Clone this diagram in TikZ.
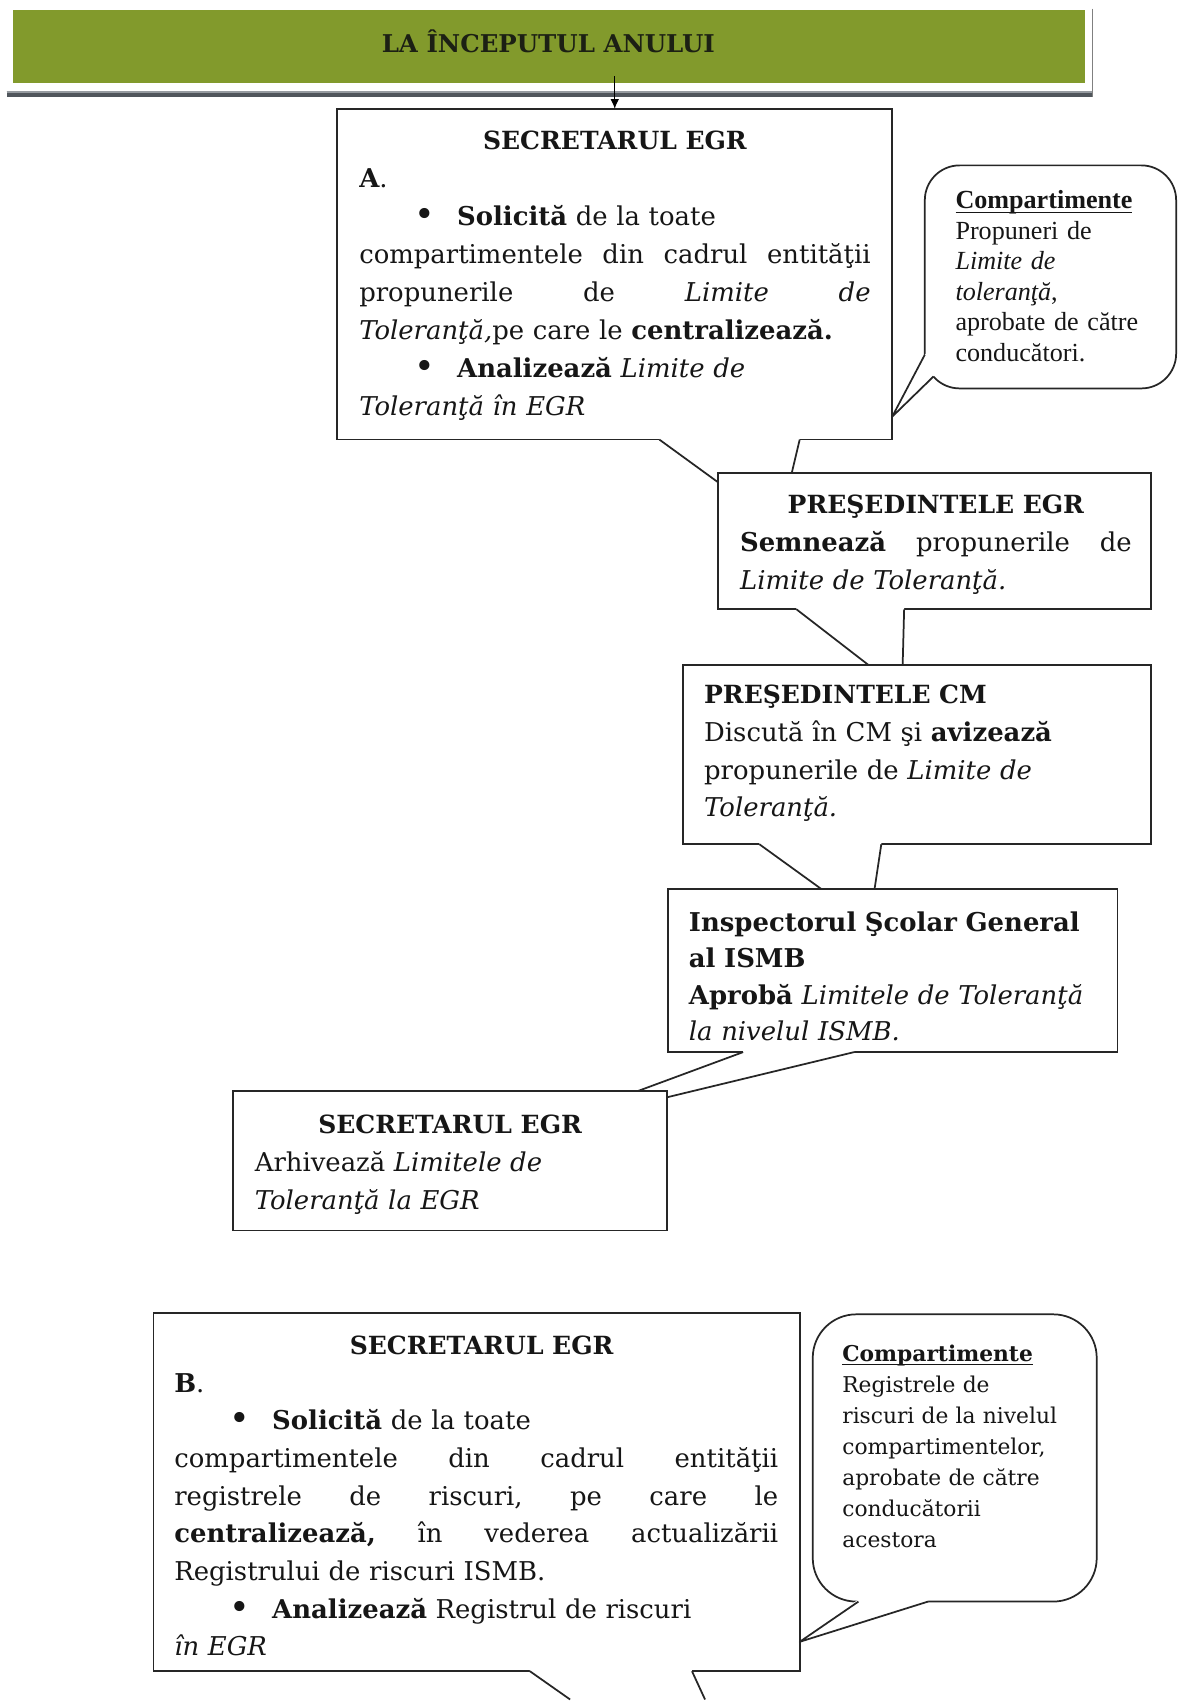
\documentclass[tikz,border=0pt]{standalone}
\usepackage{fontspec}
\usepackage{graphicx}
\setmainfont{DejaVu Serif}
\newfontfamily\timesfont{Liberation Serif}
\usetikzlibrary{arrows.meta,calc}

\definecolor{bandgreen}{RGB}{130,154,44}
\definecolor{titleink}{RGB}{28,32,20}
\definecolor{ink}{RGB}{22,22,22}
\definecolor{frame}{RGB}{38,38,38}
\definecolor{shadowdark}{RGB}{80,86,92}
\definecolor{shadowlight}{RGB}{150,155,160}

% underline with a heavier rule
\newsavebox\ulbox
\newcommand\ulword[1]{\sbox\ulbox{#1}\rlap{\rule[-4pt]{\wd\ulbox}{1.3pt}}\usebox\ulbox}
% list bullet with its indent
\newcommand\bul{\hspace*{51pt}\makebox[39pt][l]{\raisebox{-1pt}{\scalebox{1.35}{•}}}}
% a line spread over the full width (words separated by \hfill)
\newcommand\jline[1]{\leavevmode\hbox to\linewidth{#1}}
% headings keep a slightly smaller size than the body
\newcommand\head[1]{{\fontsize{23}{23}\selectfont\bfseries #1}}

\tikzset{
  box/.style={draw=frame, line width=1.6pt, fill=white, anchor=north west,
              inner sep=0pt, outer sep=0pt},
  bubble/.style={box, rounded corners=#1},
  tail/.style={draw=frame, line width=1.6pt, line join=round},
  body/.style={anchor=base west, inner sep=0pt, text=ink, align=left},
  sz/.style 2 args={font={\fontsize{#1}{#2}\selectfont}},
  band/.style={fill=bandgreen, anchor=north west, inner sep=0pt,
               minimum width=985pt, minimum height=67pt},
  arrowline/.style={draw=black, line width=1pt, -{Latex[length=9pt,width=8pt]}},
}

\begin{document}
\begin{tikzpicture}[x=1pt,y=-1pt]
\useasboundingbox (0,0) rectangle (1087,1568);
\clip (0,0) rectangle (1087,1568);
\fill[white] (0,0) rectangle (1087,1568);

% ---------- header band with its shadow ----------
\coordinate (shL) at (6,86.5);
\coordinate (shR) at (1004,86.5);
\draw[line width=5pt, draw=shadowdark] (shL) -- (shR);
\draw[line width=1.5pt, draw=shadowlight] ($(shL)+(0,-1.8)$) -- ($(shR)+(0,-1.8)$);
\coordinate (edT) at (1004,8);
\coordinate (edB) at (1004,89);
\draw[line width=0.8pt, draw=gray] (edT) -- (edB);
\node[band] (band) at (12,9) {};
\node[anchor=base, inner sep=0pt, text=titleink,
      font={\fontsize{22.5}{26}\selectfont\bfseries}] (bandtitle) at (504,48)
      {LA ÎNCEPUTUL ANULUI};

% ---------- A: secretarul EGR ----------
\node[box, minimum width=510pt, minimum height=304pt] (A) at (310,100) {};
\node[body, sz={23.8}{35}, text width=470pt] (Atext) at (330,137) {%
\makebox[\linewidth]{\head{SECRETARUL EGR}}\\
\textbf{A}.\\
\bul\textbf{Solicită} de la toate\\
\jline{compartimentele\hfill din\hfill cadrul\hfill entităţii}\\
\jline{propunerile\hfill de\hfill \textit{Limite}\hfill \textit{de}}\\
\textit{Toleranţă,}pe care le \textbf{centralizează.}\\
\bul\textbf{Analizează} \textit{Limite de}\\
\textit{Toleranţă în EGR}};
\coordinate (arrowstart) at (565,70);
\draw[arrowline] (arrowstart) -- (A.north);

% callout: compartimente (limite de toleranta)
\node[bubble=32pt, minimum width=231pt, minimum height=205pt] (C1) at (850,152) {};
\node[body, text width=200pt, font={\timesfont\fontsize{24}{28}\selectfont}] (C1text) at (878,192) {%
\textbf{\ulword{Compartimente}}\\
Propuneri de\\
\textit{Limite de}\\
\textit{toleranţă},\\
aprobate de către\\
conducători.};
\coordinate (c1) at (850,326);
\coordinate (c2) at (858,346);
\coordinate (ctip) at (A.east |- 0,383);
\fill[white] (c1) -- (ctip) -- (c2) -- (863,343) -- (855,321) -- cycle;
\draw[tail] (c1) -- (ctip) -- (c2);

% tail of A towards the president of EGR
\coordinate (a1) at (606,404);
\coordinate (a2) at (735,404);
\coordinate (atip) at (716,484);
\fill[white] ($(a1)+(0,-2)$) -- (a1) -- (atip) -- (a2) -- ($(a2)+(0,-2)$) -- cycle;
\draw[tail] (a1) -- (atip) -- (a2);

% ---------- presedintele EGR ----------
\node[box, minimum width=398pt, minimum height=125pt] (PE) at (660,435) {};
\node[body, sz={23.8}{35}, text width=360pt] (PEtext) at (680,472) {%
\makebox[\linewidth]{\head{PREŞEDINTELE EGR}}\\
\jline{\textbf{Semnează}\hfill propunerile\hfill de}\\
\textit{Limite de Toleranţă.}};
\coordinate (p1) at (732,560);
\coordinate (p2) at (831,560);
\coordinate (ptip) at (829,635);
\fill[white] ($(p1)+(0,-2)$) -- (p1) -- (ptip) -- (p2) -- ($(p2)+(0,-2)$) -- cycle;
\draw[tail] (p1) -- (ptip) -- (p2);

% ---------- presedintele CM ----------
\node[box, minimum width=430pt, minimum height=165pt] (CM) at (628,611) {};
\node[body, sz={23.8}{34.5}, text width=400pt] (CMtext) at (647,647) {%
\head{PREŞEDINTELE CM}\\
Discută în CM şi \textbf{avizează}\\
propunerile de \textit{Limite de}\\
\textit{Toleranţă.}};
\coordinate (m1) at (698,776);
\coordinate (m2) at (810,776);
\coordinate (mtip) at (799,849);
\fill[white] ($(m1)+(0,-2)$) -- (m1) -- (mtip) -- (m2) -- ($(m2)+(0,-2)$) -- cycle;
\draw[tail] (m1) -- (mtip) -- (m2);

% ---------- inspectorul scolar general ----------
\node[box, minimum width=413pt, minimum height=150pt] (IS) at (614,817) {};
\node[body, sz={23.8}{33.5}, text width=390pt] (IStext) at (633,856) {%
\textbf{Inspectorul Şcolar General}\\
\textbf{al ISMB}\\
\textbf{Aprobă} \textit{Limitele de Toleranţă}\\
\textit{la nivelul ISMB.}};
\coordinate (i1) at (683,967);
\coordinate (i2) at (785,967);
\coordinate (itip) at (491,1038);
\fill[white] ($(i1)+(0,-2)$) -- (i1) -- (itip) -- (i2) -- ($(i2)+(0,-2)$) -- cycle;
\draw[tail] (i1) -- (itip) -- (i2);

% ---------- secretarul EGR: arhivare ----------
\node[box, minimum width=399pt, minimum height=128pt] (SA) at (214,1003) {};
\node[body, sz={23.8}{35}, text width=359pt] (SAtext) at (234,1042) {%
\makebox[\linewidth]{\head{SECRETARUL EGR}}\\
Arhivează \textit{Limitele de}\\
\textit{Toleranţă la EGR}};

% ---------- B: secretarul EGR ----------
\node[box, minimum width=594pt, minimum height=329pt] (B) at (141,1207) {};
\node[body, sz={23.8}{34.6}, text width=555pt] (Btext) at (160,1245) {%
\makebox[\linewidth]{\hspace*{10pt}\head{SECRETARUL EGR}}\\
\textbf{B}.\\
\bul\textbf{Solicită} de la toate\\
\jline{compartimentele\hfill din\hfill cadrul\hfill entităţii}\\
\jline{registrele\hfill de\hfill riscuri,\hfill pe\hfill care\hfill le}\\
\jline{\textbf{centralizează,}\hfill în\hfill vederea\hfill actualizării}\\
Registrului de riscuri ISMB.\\
\bul\textbf{Analizează} Registrul de riscuri\\
\textit{în EGR}};
\coordinate (b1) at (487,1536);
\coordinate (b2) at (636,1536);
\coordinate (b1end) at (524,1562);
\coordinate (b2end) at (648,1562);
\fill[white] ($(b1)+(0,-2)$) -- (b1) -- (b1end) -- (b2end) -- (b2) -- ($(b2)+(0,-2)$) -- cycle;
\draw[tail] (b1) -- (b1end);
\draw[tail] (b2) -- (b2end);

% callout: compartimente (registre de riscuri)
\node[bubble=40pt, minimum width=261pt, minimum height=264pt] (C2) at (747,1208) {};
\node[body, sz={20}{28.5}, text width=230pt] (C2text) at (774,1251) {%
\textbf{\ulword{Compartimente}}\\
Registrele de\\
riscuri de la nivelul\\
compartimentelor,\\
aprobate de către\\
conducătorii\\
acestora};
\coordinate (d1) at (789,1472);
\coordinate (d2) at (853,1472);
\coordinate (dtip) at (B.east |- 0,1509);
\fill[white] ($(d1)+(0,-2)$) -- (dtip) -- (d2) -- ($(d2)+(0,-2)$) -- cycle;
\draw[tail] (d1) -- (dtip) -- (d2);
\end{tikzpicture}
\end{document}
